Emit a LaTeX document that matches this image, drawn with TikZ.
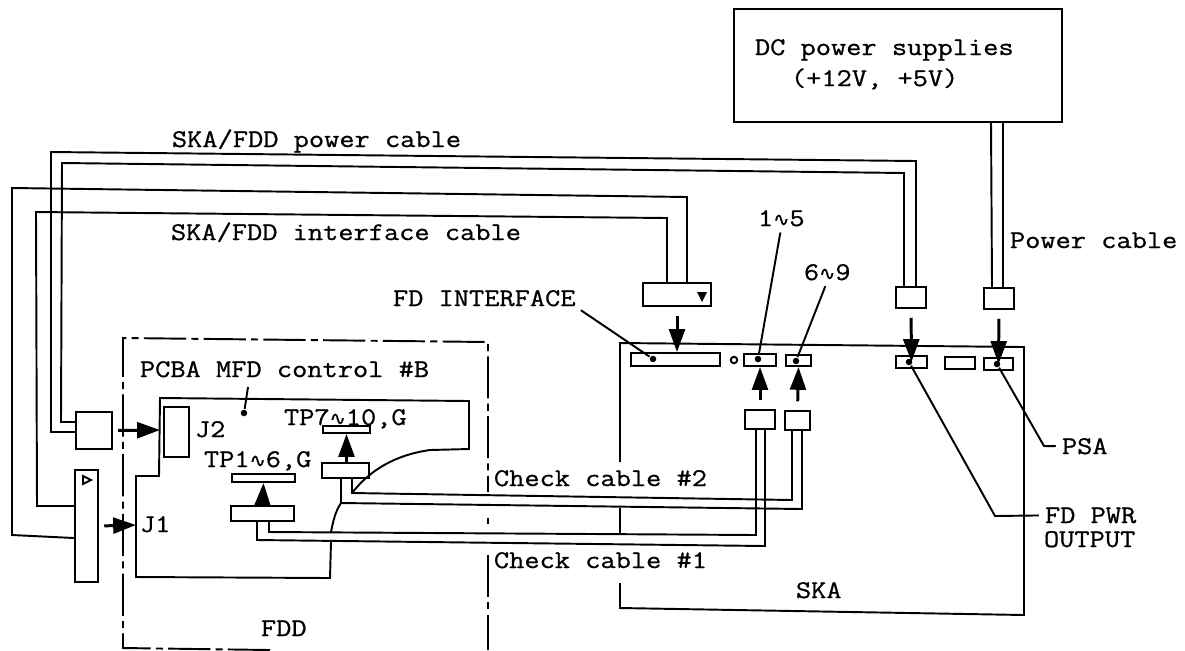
\documentclass[tikz,border=0pt]{standalone}
\usepackage{fontspec}
\setmonofont[FakeStretch=1.16,FakeBold=0.8]{Latin Modern Mono}
\newfontfamily\wavefont[FakeBold=0.6]{DejaVu Sans}
\newcommand{\wavy}{{\wavefont\fontsize{11}{13}\selectfont ∿}}
\usetikzlibrary{arrows.meta,calc}
\tikzset{
    box/.style={draw, inner sep=0pt},
    lbl/.style={anchor=base west, inner sep=0pt, font=\ttfamily\fontsize{14.5}{17}\selectfont},
    pin/.style={circle, fill, inner sep=0pt, minimum size=0.13cm},
    plugin/.style={-{Triangle[length=13pt,width=9pt]}, line width=1.7pt},
    leader/.style={shorten <=3pt},
    border/.style={dash pattern=on 24pt off 3pt on 4pt off 3pt}
}

\begin{document}
\begin{tikzpicture}[x=0.02cm, y=-0.02cm, line width=1.1pt]
    \useasboundingbox (0,0) rectangle (1185,650);

    % Define supply and SKA plugs
    \node[box, minimum width=6.56cm, minimum height=2.26cm] (dc) at (898,65.5) {};
    \node[box, minimum width=1.36cm, minimum height=0.46cm] (intplug) at (677,294.5) {};
    \node[box, minimum width=0.6cm, minimum height=0.42cm] (pwrplug) at (911,297.5) {};
    \node[box, minimum width=0.6cm, minimum height=0.42cm] (psplug) at (999,298.5) {};
    \node[box, minimum width=0.6cm, minimum height=0.38cm] (chkAplug) at (760,419.5) {};
    \node[box, minimum width=0.5cm, minimum height=0.38cm] (chkBplug) at (797.5,420.5) {};

    % Define SKA connectors
    \node[box, minimum width=1.78cm, minimum height=0.26cm] (intconn) at (675.5,359.5) {};
    \node[box, circle, minimum size=0.13cm] (hole) at (734,360) {};
    \node[box, minimum width=0.65cm, minimum height=0.24cm] (oneconn) at (760,360) {};
    \node[box, minimum width=0.5cm, minimum height=0.22cm] (sixconn) at (798.5,360.5) {};
    \node[box, minimum width=0.62cm, minimum height=0.24cm] (pwrconn) at (911.5,362) {};
    \node[box, minimum width=0.6cm, minimum height=0.24cm] (midconn) at (960,363) {};
    \node[box, minimum width=0.58cm, minimum height=0.24cm] (psaconn) at (998.5,364) {};

    % Define FDD parts
    \node[box, minimum width=0.72cm, minimum height=0.74cm] (jtwoplug) at (94,430.5) {};
    \node[box, minimum width=0.46cm, minimum height=2.24cm] (joneplug) at (86.5,526) {};
    \node[box, minimum width=0.5cm, minimum height=1cm] (jtwo) at (176.5,432) {};
    \node[box, minimum width=1.26cm, minimum height=0.16cm] (tpAstrip) at (263.5,478) {};
    \node[box, minimum width=1.26cm, minimum height=0.3cm] (tpAconn) at (262.5,513.5) {};
    \node[box, minimum width=0.94cm, minimum height=0.14cm] (tpBstrip) at (346.5,429.5) {};
    \node[box, minimum width=0.94cm, minimum height=0.3cm] (tpBconn) at (345.5,470.5) {};

    % Define labels
    \node[lbl] (dctext) at (754,55) {DC power supplies};
    \node[lbl] (volttext) at (790,86) {(+12V, +5V)};
    \node[lbl] (pwrtext) at (171,147) {SKA/FDD power cable};
    \node[lbl] (inttext) at (170,240) {SKA/FDD interface cable};
    \node[lbl] (pstext) at (1009,248) {Power cable};
    \node[lbl] (fdtext) at (392,306) {FD INTERFACE};
    \node[lbl] (onetext) at (757,226) {1\wavy 5};
    \node[lbl] (sixtext) at (803,280) {6\wavy 9};
    \node[lbl] (pcbatext) at (139,377) {PCBA MFD control \#B};
    \node[lbl] (tpBtext) at (283,425) {TP7\wavy 10,G};
    \node[lbl] (tpAtext) at (203,467) {TP1\wavy 6,G};
    \node[lbl] (jtwotext) at (194,437) {J2};
    \node[lbl] (jonetext) at (139,532) {J1};
    \node[lbl] (fddtext) at (260,636) {FDD};
    \node[lbl] (chkBtext) at (493,486) {Check cable \#2};
    \node[lbl] (chkAtext) at (493,568) {Check cable \#1};
    \node[lbl] (skatext) at (795,598) {SKA};
    \node[lbl] (psatext) at (1061,454) {PSA};
    \node[lbl] (fdpwrtext) at (1044,523) {FD PWR};
    \node[lbl] (outtext) at (1043,547) {OUTPUT};

    % Define leader ends
    \node[pin] (fdpin) at (653,359) {};
    \node[pin] (onepin) at (758,359) {};
    \node[pin] (sixpin) at (796,361) {};
    \node[pin] (pwrpin) at (909,362) {};
    \node[pin] (psapin) at (997,364) {};
    \node[pin] (pcbapin) at (244,413) {};
    \coordinate (pcbatop) at (248,387);
    \coordinate (jtwoend) at (160,430);
    \coordinate (joneend) at (136,525);

    % Draw outlines
    \draw[border] (270,650) -- (123,648) -- (123,338) -- (488,342) -- (488,492);
    \draw[border] (488,518) -- (488,524);
    \draw[border] (488,555) -- (488,650);
    \draw (620,462) -- (620,343) -- (1024,347) -- (1024,615) -- (620,608) -- (620,583);
    \draw (620,508) -- (620,535);
    \draw (352,493) .. controls (370,470) and (395,455) .. (430,450) -- (469,449) -- (469,401)
        -- (160,398) -- (159,476) -- (136,476) -- (136,577) -- (330,578) -- (331,542);
    \draw (331,532) .. controls (333,522) and (335,512) .. (341,503);

    % Draw markers on the long plugs
    \fill (697,292) -- (707,292) -- (702,302) -- cycle;
    \draw (83,476) -- (91,480) -- (83,484) -- cycle;

    % Draw cables
    \draw ($(psplug.north)+(-7,0)$) -- ($(dc.south)+(93,0)$);
    \draw ($(psplug.north)+(4,0)$) -- ($(dc.south)+(105,0)$);
    \draw ($(jtwoplug.west)+(0,-8.5)$) -- (61,422) -- (62,163) -- (904,173) -- ($(pwrplug.north)+(-7,0)$);
    \draw ($(jtwoplug.west)+(0,1.5)$) -- (51,432) -- (51,152) -- (916,161) -- ($(pwrplug.north)+(5,0)$);
    \draw ($(joneplug.west)+(0,-20)$) -- (37,506) -- (36,212) -- (667,218) -- ($(intplug.north)+(-10,0)$);
    \draw ($(joneplug.west)+(0,12)$) -- (12,535) -- (12,188) -- (687,197) -- ($(intplug.north)+(10,0)$);
    \draw ($(tpAconn.south)+(6.5,0)$) -- (269,532) -- (756,535) -- ($(chkAplug.south)+(-4,0)$);
    \draw ($(tpAconn.south)+(-5.5,0)$) -- (257,540) -- (765,546) -- ($(chkAplug.south)+(5,0)$);
    \draw ($(tpBconn.south)+(6.5,0)$) -- (352,493) -- (792,500) -- ($(chkBplug.south)+(-5.5,0)$);
    \draw ($(tpBconn.south)+(-4.5,0)$) -- (341,503) -- (802,509) -- ($(chkBplug.south)+(4.5,0)$);

    % Draw arrows
    \draw[plugin, shorten <=5pt] (intplug.south) -- (intplug.south |- intconn.north);
    \draw[plugin, shorten <=5pt] (pwrplug.south) -- (pwrconn.center);
    \draw[plugin, shorten <=5pt] (psplug.south) -- (psaconn.center);
    \draw[plugin, shorten <=5pt] (chkAplug.north) -- (oneconn.south);
    \draw[plugin, shorten <=5pt] (chkBplug.north) -- (sixconn.south);
    \draw[plugin, shorten <=3pt] (jtwoplug.east) -- (jtwoend);
    \draw[plugin, shorten <=3pt] (joneplug.east) -- (joneend);
    \draw[plugin] (tpAconn.north) -- (tpAstrip.south);
    \draw[plugin] (tpBconn.north -| tpBstrip.south) -- (tpBstrip.south);

    % Draw leaders
    \draw[leader] (fdtext.south east) -- (fdpin);
    \draw[leader] (onetext.south) -- (onepin);
    \draw[leader] (sixtext.south) -- (sixpin);
    \draw (pcbatop) -- (pcbapin);
    \draw[shorten >=3pt] (pwrpin) -- (995,516) -- (fdpwrtext.west);
    \draw[shorten >=3pt] (psapin) -- (1044,446) -- (psatext.west);
\end{tikzpicture}
\end{document}
